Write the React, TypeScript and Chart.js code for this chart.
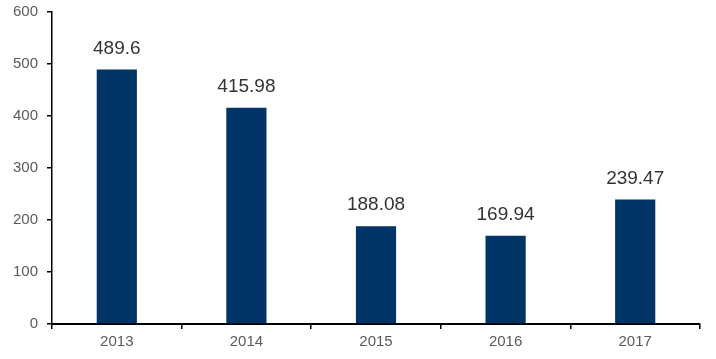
import React, { useEffect, useRef } from "react";
import { Chart, registerables } from "chart.js";

Chart.register(...registerables);

const categories = ["2013", "2014", "2015", "2016", "2017"];
const values = [489.6, 415.98, 188.08, 169.94, 239.47];
const valueLabels = ["489.6", "415.98", "188.08", "169.94", "239.47"];
const yTicks = [0, 100, 200, 300, 400, 500, 600];

const FONT = "'Liberation Sans', Arial, sans-serif";

const dataLabelPlugin = {
  id: "dataLabels",
  afterDatasetsDraw(chart: any) {
    const ctx = chart.ctx;
    const meta = chart.getDatasetMeta(0);
    ctx.save();
    ctx.font = `19px ${FONT}`;
    ctx.fillStyle = "#333333";
    ctx.textAlign = "center";
    ctx.textBaseline = "middle";
    meta.data.forEach((bar: any, i: number) => {
      ctx.fillText(valueLabels[i], bar.x, bar.y - 21);
    });
    ctx.restore();
  },
};

export default function App() {
  const ref = useRef<HTMLCanvasElement>(null);
  useEffect(() => {
    if (!ref.current) return;
    const chart = new Chart(ref.current, {
      type: "bar",
      data: {
        labels: categories,
        datasets: [
          {
            data: values,
            backgroundColor: "#003366",
            borderWidth: 0,
            categoryPercentage: 1,
            barPercentage: 0.31,
          },
        ],
      },
      options: {
        animation: false,
        responsive: true,
        maintainAspectRatio: false,
        layout: { padding: { top: 12, right: 16, left: 0, bottom: 0 } },
        plugins: { legend: { display: false }, tooltip: { enabled: false } },
        scales: {
          x: {
            grid: {
              display: true,
              drawOnChartArea: false,
              drawTicks: true,
              tickLength: 5,
              offset: true,
              color: "#000000",
              lineWidth: 1.5,
            },
            border: { display: true, color: "#000000", width: 2 },
            ticks: {
              color: "#595959",
              font: { family: FONT, size: 15 },
              padding: 4,
            },
            afterFit(scale: any) {
              scale.height = 35;
              scale.paddingLeft = 0;
              scale.paddingRight = 0;
            },
          },
          y: {
            min: 0,
            max: 600,
            grid: {
              display: true,
              drawOnChartArea: false,
              drawTicks: true,
              tickLength: 5,
              color: "#000000",
              lineWidth: 1.5,
            },
            border: { display: true, color: "#000000", width: 1.5 },
            afterBuildTicks(scale: any) {
              scale.ticks = yTicks.map((v) => ({ value: v }));
            },
            ticks: {
              color: "#5a5a5a",
              font: { family: FONT, size: 15 },
              padding: 9,
            },
            afterFit(scale: any) {
              scale.width = 52;
              scale.paddingTop = 0;
              scale.paddingBottom = 0;
            },
          },
        },
      },
      plugins: [dataLabelPlugin],
    });
    return () => chart.destroy();
  }, []);
  return (
    <div style={{ position: "fixed", top: 0, left: 0, width: 716, height: 359 }}>
      <canvas ref={ref} />
    </div>
  );
}
